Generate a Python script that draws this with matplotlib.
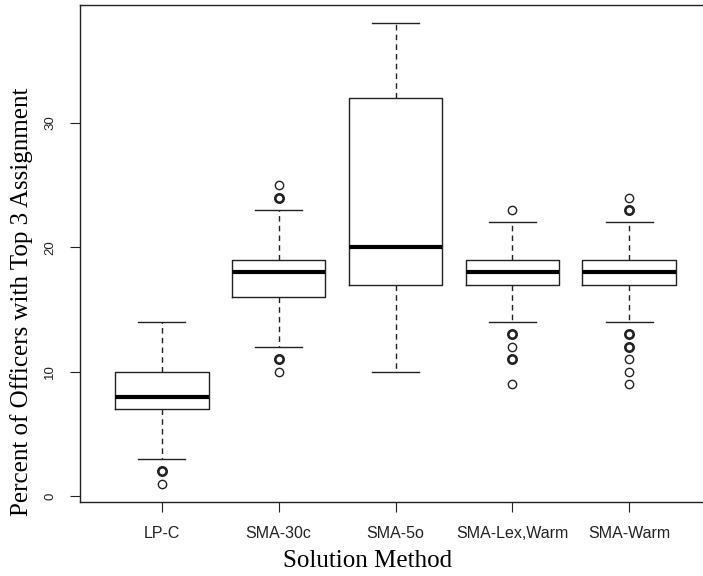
import matplotlib
matplotlib.use("Agg")
import matplotlib.pyplot as plt

# box statistics
methods = ["LP-C", "SMA-30c", "SMA-5o", "SMA-Lex,Warm", "SMA-Warm"]
whislo = [3, 12, 10, 14, 14]
q1 = [7, 16, 17, 17, 17]
med = [8, 18, 20, 18, 18]
q3 = [10, 19, 32, 19, 19]
whishi = [14, 23, 38, 22, 22]
# outliers (a repeated value -> bold ring where several overlap)
outliers = [
    [2, 2, 1],
    [25, 24, 24, 11, 11, 10],
    [],
    [23, 13, 13, 12, 11, 11, 9],
    [24, 23, 23, 13, 13, 12, 12, 11, 10, 9],
]

fig = plt.figure(figsize=(7.03, 5.76), dpi=100)
# right edge of the frame falls just outside the picture
ax = fig.add_axes([80 / 703, 74 / 576, 631 / 703, 497 / 576])

stats = []
for i in range(len(methods)):
    stats.append(dict(label=methods[i], whislo=whislo[i], q1=q1[i], med=med[i],
                      q3=q3[i], whishi=whishi[i], fliers=[]))

ax.bxp(stats, positions=range(1, 6), widths=0.8, showfliers=False,
       boxprops=dict(color="#222222", linewidth=1.0),
       medianprops=dict(color="black", linewidth=3.0),
       whiskerprops=dict(color="#222222", linewidth=1.0, linestyle=(0, (4, 3))),
       capprops=dict(color="#222222", linewidth=1.0),
       capwidths=0.4)

for i, vals in enumerate(outliers):
    for v in sorted(set(vals)):
        n = vals.count(v)
        ax.plot(i + 1, v, "o", mfc="none", mec="#222222", ms=6,
                mew=1.0 if n == 1 else 1.9)

ax.set_xlim(0.3, 5.7)
ax.set_ylim(-0.48, 39.48)
ax.set_xticks(range(1, 6))
ax.set_xticklabels(methods, fontsize=11.5, family="Liberation Sans", color="#222222")
ax.set_yticks([0, 10, 20, 30])
ax.set_yticklabels(["0", "10", "20", "30"], fontsize=9.5, family="Liberation Sans",
                   rotation=90, va="center", color="#222222")
ax.tick_params(axis="x", length=7, pad=10, color="#222222")
ax.tick_params(axis="y", length=7, pad=10, color="#222222")
for s in ax.spines.values():
    s.set_linewidth(1.0)
    s.set_color("#222222")

ax.set_xlabel("Solution Method", fontsize=18, family="Liberation Serif")
ax.xaxis.set_label_coords(0.456, -0.097)
ax.set_ylabel("Percent of Officers with Top 3 Assignment", fontsize=18,
              family="Liberation Serif")
ax.yaxis.set_label_coords(-0.0745, 0.402)

fig.savefig("out.png", dpi=100)
